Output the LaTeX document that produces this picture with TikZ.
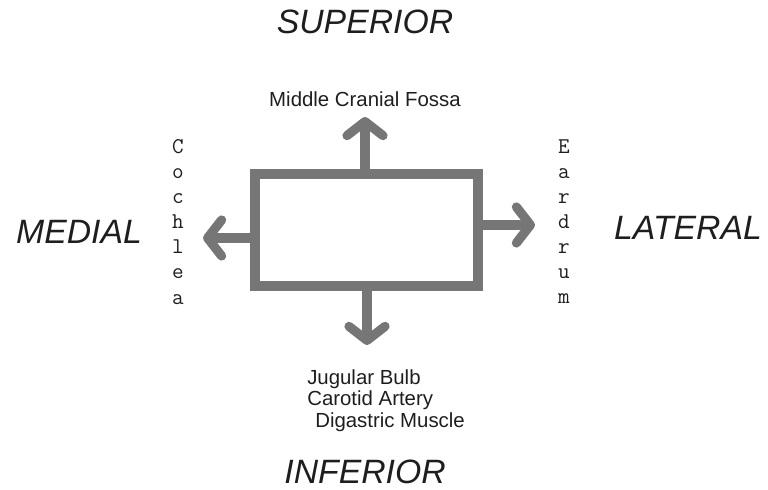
\documentclass[tikz,border=0pt]{standalone}
\usepackage{fontspec}
\setmainfont{Liberation Sans}
\usetikzlibrary{arrows.meta,positioning}
\definecolor{wallgrey}{RGB}{118,118,118}
\definecolor{inkblack}{RGB}{30,30,30}
\tikzset{
  wall/.style={draw=wallgrey,line width=2.5mm,inner sep=0pt,
               minimum width=5.58cm,minimum height=2.8cm},
  flow/.style={draw=wallgrey,line width=2.3mm,
               -{Straight Barb[length=3.5mm,width=9mm,round]}},
  dirlbl/.style={font=\fontsize{24}{28}\selectfont\itshape,text=inkblack,inner sep=0pt},
  partlbl/.style={font=\fontsize{14.5}{15.6}\selectfont,text=inkblack,inner sep=0pt},
  vlbl/.style={font=\ttfamily\fontsize{16}{17.8}\selectfont,align=center,
               text=inkblack,inner sep=0pt},
}

\begin{document}
\begin{tikzpicture}[x=0.025cm,y=-0.025cm]
  \useasboundingbox (0,0) rectangle (768,490);

  % the cavity
  \node[wall] (cavity) at (366.5,230) {};

  \coordinate (uptip) at (365,117);
  \coordinate (downtip) at (367,345);
  \coordinate (lefttip) at (203,238);
  \coordinate (righttip) at (535,225);

  \draw[flow] (cavity.north -| uptip) -- (uptip);
  \draw[flow] (cavity.south -| downtip) -- (downtip);
  \draw[flow] (cavity.west |- lefttip) -- (lefttip);
  \draw[flow] (cavity.east |- righttip) -- (righttip);

  % walls and what lies behind them
  \node[partlbl,above=2.5mm of uptip] (fossa) {Middle Cranial Fossa};
  \node[partlbl,align=left,anchor=north west] (lower) at (307,369)
    {Jugular Bulb\\Carotid Artery\\\hspace*{2mm}Digastric Muscle};
  \node[vlbl] (cochlea) at (178,222) {C\\o\\c\\h\\l\\e\\a};
  \node[vlbl] (eardrum) at (564,222) {E\\a\\r\\d\\r\\u\\m};

  % directions
  \node[dirlbl] (superior) at (365,22) {SUPERIOR};
  \node[dirlbl] (inferior) at (365,472) {INFERIOR};
  \node[dirlbl] (medial) at (79,232) {MEDIAL};
  \node[dirlbl] (lateral) at (688,228) {LATERAL};
\end{tikzpicture}
\end{document}
